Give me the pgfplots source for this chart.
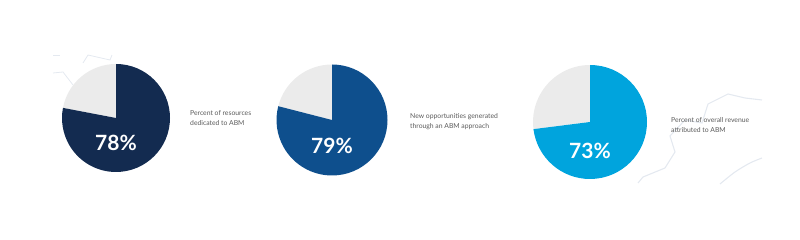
\documentclass[border=0pt]{standalone}
\usepackage{pgfplots}
\pgfplotsset{compat=1.18}
\usepackage{pgfplotstable}
\usepackage{fontspec}
\setmainfont{Lato}
\definecolor{c1}{HTML}{132B50}
\definecolor{c2}{HTML}{0E4F8D}
\definecolor{c3}{HTML}{00A4DD}
\definecolor{rest}{HTML}{EBEBEB}
\definecolor{lbl}{HTML}{5A5A5A}
\definecolor{gear}{HTML}{E4E9F0}
\pgfplotstableread{
value cx cy r
78 116 122 54
79 332 120 55.5
73 590 118 57
}\piedata
\newcommand{\pie}[5]{%
  \fill[rest] (axis cs:#2,#3) -- (axis cs:#2,#3+#4) arc[start angle=90, delta angle={(100-#1)*3.6}, radius=#4pt] -- cycle;
  \fill[#5] (axis cs:#2,#3) -- (axis cs:#2,#3+#4) arc[start angle=90, delta angle={-#1*3.6}, radius=#4pt] -- cycle;
}
\begin{document}
\begin{tikzpicture}
\begin{axis}[
  scale only axis, x=1pt, y=1pt,
  xmin=0, xmax=800, ymin=0, ymax=240,
  hide axis, clip=false,
]
\path (axis cs:0,0) rectangle (axis cs:800,240);
% faint decorative gear outlines (y = 240 - image y)
\addplot[gear, line width=1.1pt, no marks] coordinates {(762,140) (745,142) (728,146) (708,136) (702,117) (685,120) (670,104) (675,88) (665,72) (643,63) (638,57)};
\addplot[gear, line width=1.1pt, no marks, smooth] coordinates {(720,56) (735,68) (750,77) (762,82)};
\addplot[gear, line width=0.8pt, no marks] coordinates {(53,185) (60,185)};
\addplot[gear, line width=0.8pt, no marks] coordinates {(53,167) (63,168) (73,155)};
\addplot[gear, line width=0.8pt, no marks] coordinates {(83,177) (88,185) (110,180) (112,185)};
\pgfplotstablegetelem{0}{value}\of\piedata\let\va\pgfplotsretval
\pgfplotstablegetelem{1}{value}\of\piedata\let\vb\pgfplotsretval
\pgfplotstablegetelem{2}{value}\of\piedata\let\vc\pgfplotsretval
\pie{\va}{116}{122}{54}{c1}
\pie{\vb}{332}{120}{55.5}{c2}
\pie{\vc}{590}{118}{57}{c3}
\node[white, font=\fontsize{21}{21}\selectfont\bfseries] at (axis cs:116,97) {\va\%};
\node[white, font=\fontsize{21}{21}\selectfont\bfseries] at (axis cs:332,94) {\vb\%};
\node[white, font=\fontsize{21}{21}\selectfont\bfseries] at (axis cs:590,89) {\vc\%};
\node[lbl, anchor=west, align=left, inner sep=0pt, font=\fontsize{6.8}{10}\selectfont] at (axis cs:190,122) {Percent of resources\\dedicated to ABM};
\node[lbl, anchor=west, align=left, inner sep=0pt, font=\fontsize{6.8}{10}\selectfont] at (axis cs:410,118) {New opportunities generated\\through an ABM approach};
\node[lbl, anchor=west, align=left, inner sep=0pt, font=\fontsize{6.8}{10}\selectfont] at (axis cs:671,115) {Percent of overall revenue\\attributed to ABM};
\end{axis}
\end{tikzpicture}
\end{document}
